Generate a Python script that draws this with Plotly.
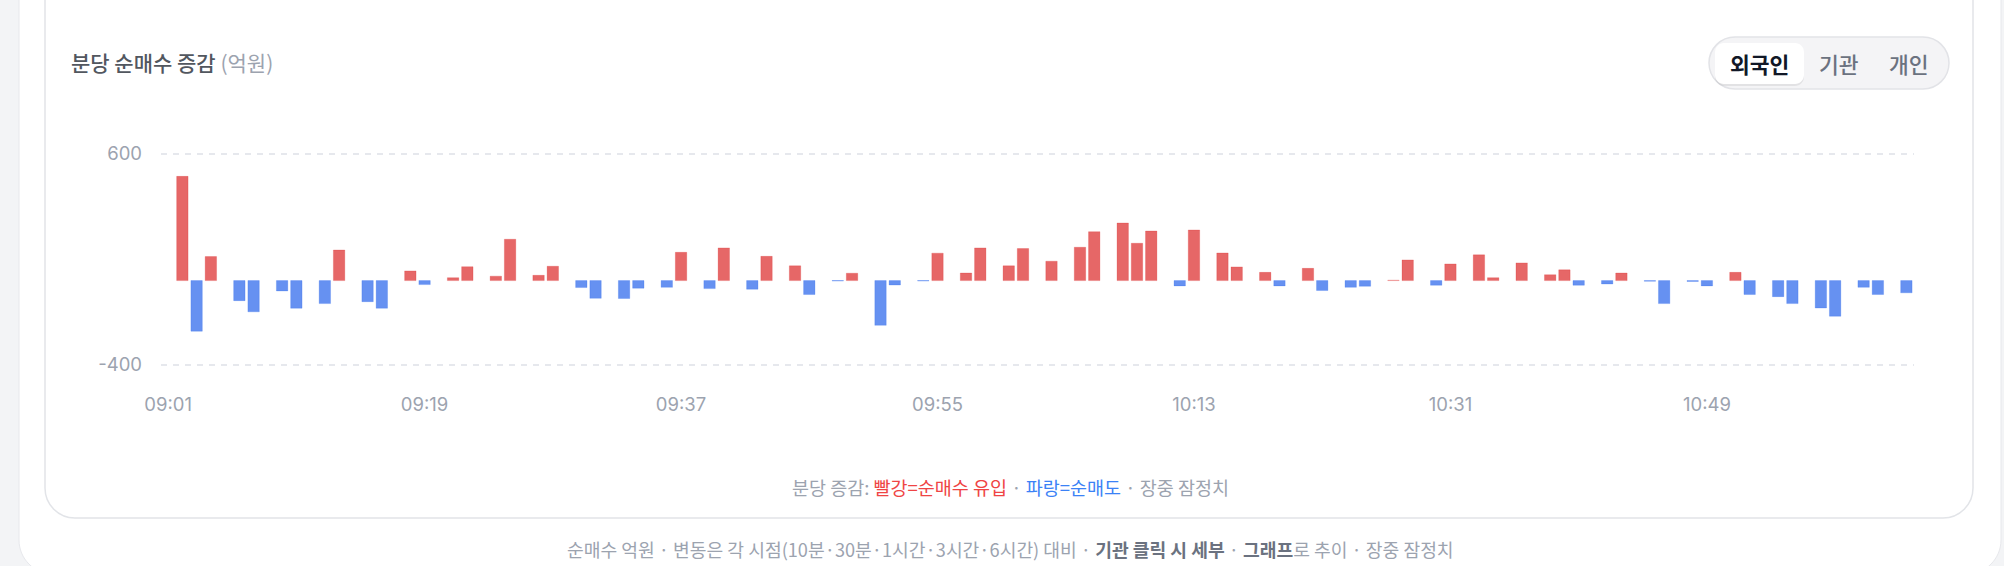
import plotly.graph_objects as go
import pandas as pd

# ---------------- data ----------------
net_change = [
    0, 494, -240, 114, 0, -95, -148, 0, -49, -131,
    0, -109, 145, 0, -100, -131, 0, 46, -19, 0,
    14, 66, 0, 21, 196, 0, 25, 68, 0, -33,
    -84, 0, -85, -36, 0, -32, 134, 0, -38, 155,
    0, -41, 115, 0, 70, -66, 0, -2, 35, 0,
    -212, -21, 0, -2, 130, 0, 36, 155, 0, 70,
    152, 0, 92, 0, 158, 232, 0, 273, 177, 235,
    0, -25, 240, 0, 131, 65, 0, 39, -25, 0,
    58, -47, 0, -32, -27, 0, 2, 98, 0, -22,
    79, 0, 122, 14, 0, 84, 0, 28, 51, -22,
    0, -16, 36, 0, -3, -109, 0, -4, -25, 0,
    39, -66, 0, -76, -109, 0, -130, -169, 0, -32,
    -66, 0, -58,
]
times = pd.date_range("2024-01-02 09:01", periods=len(net_change), freq="min").strftime("%H:%M").tolist()
tick_labels = ["09:01", "09:19", "09:37", "09:55", "10:13", "10:31", "10:49"]
y_ticks = [-400, 600]
Y_PAD = 12   # small value pad so Plotly keeps the edge gridlines
y_range = [y_ticks[0] - Y_PAD, y_ticks[1] + Y_PAD]
toggle_labels = ["외국인", "기관", "개인"]

# ---------------- style ----------------
W, H = 2004, 566
KR = "Noto Sans CJK KR"
NUM = "Inter, 'Noto Sans CJK KR', sans-serif"
RED_FILL, RED_LINE = "rgba(220,38,38,0.70)", "rgba(220,38,38,0.22)"
BLUE_FILL, BLUE_LINE = "rgba(37,99,235,0.70)", "rgba(37,99,235,0.22)"


def X(px):
    return px / W


def Y(py):
    return 1 - py / H


def rrect(x0, y0, x1, y1, r):
    k = 0.5523 * r
    p = []
    p.append(f"M {X(x0 + r)},{Y(y0)}")
    p.append(f"L {X(x1 - r)},{Y(y0)}")
    p.append(f"C {X(x1 - r + k)},{Y(y0)} {X(x1)},{Y(y0 + r - k)} {X(x1)},{Y(y0 + r)}")
    p.append(f"L {X(x1)},{Y(y1 - r)}")
    p.append(f"C {X(x1)},{Y(y1 - r + k)} {X(x1 - r + k)},{Y(y1)} {X(x1 - r)},{Y(y1)}")
    p.append(f"L {X(x0 + r)},{Y(y1)}")
    p.append(f"C {X(x0 + r - k)},{Y(y1)} {X(x0)},{Y(y1 - r + k)} {X(x0)},{Y(y1 - r)}")
    p.append(f"L {X(x0)},{Y(y0 + r)}")
    p.append(f"C {X(x0)},{Y(y0 + r - k)} {X(x0 + r - k)},{Y(y0)} {X(x0 + r)},{Y(y0)}")
    p.append("Z")
    return " ".join(p)


fills = [RED_FILL if v > 0 else BLUE_FILL for v in net_change]
lines = [RED_LINE if v > 0 else BLUE_LINE for v in net_change]
lwidths = [0 if v == 0 else 1 for v in net_change]

fig = go.Figure(
    go.Bar(
        x=times,
        y=net_change,
        marker=dict(color=fills, line=dict(color=lines, width=lwidths)),
        hoverinfo="x+y",
    )
)

shapes = [
    dict(type="path", xref="paper", yref="paper", path=rrect(19, -40, 2001, 574, 34),
         fillcolor="#ffffff", line=dict(color="#e7e8ec", width=1), layer="below"),
    dict(type="path", xref="paper", yref="paper", path=rrect(45, -40, 1973, 518, 30),
         fillcolor="#ffffff", line=dict(color="#e2e4e8", width=1.5), layer="below"),
    dict(type="path", xref="paper", yref="paper", path=rrect(1709, 37, 1949, 89, 26),
         fillcolor="#f4f4f6", line=dict(color="#e2e3e7", width=1.5), layer="below"),
    dict(type="path", xref="paper", yref="paper", path=rrect(1715, 44.5, 1804, 86, 9),
         fillcolor="rgba(0,0,0,0.07)", line=dict(width=0), layer="below"),
    dict(type="path", xref="paper", yref="paper", path=rrect(1715, 43, 1804, 84, 9),
         fillcolor="#ffffff", line=dict(width=0), layer="below"),
]

annotations = [
    dict(x=X(69), y=Y(62), xref="paper", yref="paper", xanchor="left", yanchor="middle",
         showarrow=False,
         text="분당 순매수 증감 <span style='color:#9ca3af;font-weight:400'>(억원)</span>",
         font=dict(family=KR, size=21, color="#52575f", weight=500)),
    dict(x=X(1759.5), y=Y(63), xref="paper", yref="paper", xanchor="center", yanchor="middle",
         showarrow=False, text=toggle_labels[0],
         font=dict(family=KR, size=21.5, color="#111827", weight=700)),
    dict(x=X(1838.5), y=Y(63), xref="paper", yref="paper", xanchor="center", yanchor="middle",
         showarrow=False, text=toggle_labels[1],
         font=dict(family=KR, size=21.5, color="#6b7280", weight=500)),
    dict(x=X(1908.5), y=Y(63), xref="paper", yref="paper", xanchor="center", yanchor="middle",
         showarrow=False, text=toggle_labels[2],
         font=dict(family=KR, size=21.5, color="#6b7280", weight=500)),
    dict(x=X(1010), y=Y(487), xref="paper", yref="paper", xanchor="center", yanchor="middle",
         showarrow=False,
         text="분당 증감: <span style='color:#ef4444'>빨강=순매수 유입</span> · "
              "<span style='color:#3b82f6'>파랑=순매도</span> · 장중 잠정치",
         font=dict(family=KR, size=18.5, color="#9ca3af")),
    dict(x=X(1010), y=Y(549), xref="paper", yref="paper", xanchor="center", yanchor="middle",
         showarrow=False,
         text="순매수 억원 · 변동은 각 시점(10분·30분·1시간·3시간·6시간) 대비 · "
              "<span style='color:#6b7280'><b>기관 클릭 시 세부</b></span> · "
              "<span style='color:#6b7280'><b>그래프</b></span>로 추이 · 장중 잠정치",
         font=dict(family=KR, size=18.2, color="#9ca3af")),
]

px_per_unit = (365 - 154) / float(y_ticks[1] - y_ticks[0])
fig.update_layout(
    width=W, height=H, autosize=False,
    margin=dict(l=0, r=0, t=0, b=0, pad=0),
    paper_bgcolor="#f3f4f6",
    plot_bgcolor="rgba(0,0,0,0)",
    bargap=0.2,
    showlegend=False,
    shapes=shapes,
    annotations=annotations,
    xaxis=dict(
        type="category",
        domain=[X(161), X(1913.5)],
        range=[-0.5, len(net_change) - 0.5],
        tickmode="array", tickvals=tick_labels, ticktext=tick_labels,
        showgrid=False, zeroline=False, showline=False, ticks="",
        ticklabelstandoff=int(round(27 - Y_PAD * px_per_unit)),
        tickfont=dict(family=NUM, size=18.5, color="#9ca3af"),
        fixedrange=True, automargin=False,
    ),
    yaxis=dict(
        domain=[Y(365 + Y_PAD * px_per_unit), Y(154 - Y_PAD * px_per_unit)],
        range=y_range,
        tickmode="array", tickvals=y_ticks, ticktext=[str(v) for v in y_ticks],
        showgrid=True, gridcolor="#e6e8ed", gridwidth=1.5, griddash="6px,6px",
        zeroline=False, showline=False, ticks="",
        ticklabelstandoff=18,
        tickfont=dict(family=NUM, size=18.5, color="#9ca3af"),
        fixedrange=True, automargin=False,
    ),
)

fig.write_html("out.html", config={"displayModeBar": False})
